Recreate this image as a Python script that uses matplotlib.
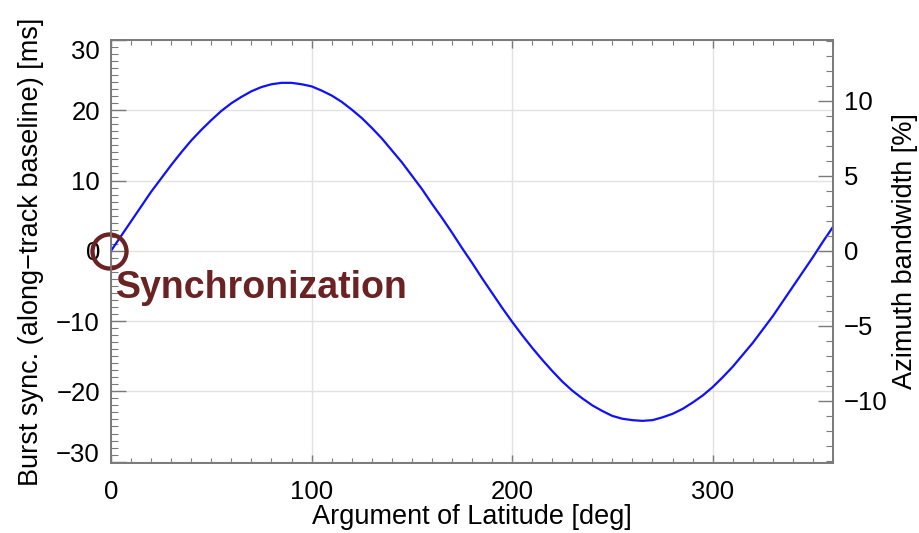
import matplotlib
matplotlib.use("Agg")
import matplotlib.pyplot as plt
from matplotlib.ticker import MultipleLocator

plt.rcParams["font.family"] = ["Liberation Sans", "DejaVu Sans"]

# burst synchronisation offset over one orbit
arg_lat = [0, 5, 10, 15, 20, 25, 30, 35, 40, 45, 50, 55, 60, 65, 70, 75, 80, 85, 90,
           95, 100, 105, 110, 115, 120, 125, 130, 135, 140, 145, 150, 155, 160, 165, 170, 175,
           180, 185, 190, 195, 200, 205, 210, 215, 220, 225, 230, 235, 240, 245, 250, 255,
           260, 265, 270, 275, 280, 285, 290, 295, 300, 305, 310, 315, 320, 325, 330, 335,
           340, 345, 350, 355, 360]
burst_sync = [0.0, 2.1, 4.2, 6.3, 8.4, 10.3, 12.2, 14.0, 15.7, 17.2, 18.6, 19.9, 21.0,
              21.9, 22.7, 23.3, 23.7, 23.9, 23.9, 23.7, 23.4, 22.8, 22.1, 21.2, 20.1,
              18.9, 17.5, 16.0, 14.3, 12.6, 10.7, 8.8, 6.7, 4.7, 2.6, 0.4,
              -1.7, -3.9, -6.0, -8.1, -10.1, -12.0, -13.8, -15.5, -17.1, -18.6, -19.9,
              -21.0, -22.0, -22.8, -23.5, -23.9, -24.1, -24.2, -24.1, -23.7, -23.2,
              -22.5, -21.6, -20.6, -19.4, -18.0, -16.5, -14.8, -13.1, -11.2, -9.3,
              -7.2, -5.1, -3.0, -0.9, 1.3, 3.4]

y_left = (-30.2, 30.0)
bw_per_ms = 0.4683          # azimuth bandwidth [%] per ms of burst offset
sync_point = (-1.2, 0.0)

spine_col = "#7a7a7a"
grid_col = "#e2e2e2"
red = "#6b2222"
fs = 18.5
fs_label = 19.5

fig = plt.figure(figsize=(9.2, 5.33), dpi=100)
ax = fig.add_axes([0.1207, 0.1313, 0.7847, 0.7937])
ax2 = ax.twinx()

ax.plot(arg_lat, burst_sync, color="#1010ff", lw=1.6, zorder=3)
ax.plot(*sync_point, marker="o", ms=24.5, mfc="none", mec=red, mew=3.1,
        clip_on=False, zorder=4)
ax.text(2.6, -6.7, "Synchronization", color=red, fontsize=27, fontweight="bold",
        ha="left", va="baseline", zorder=5)

ax.set_xlim(0, 360)
ax.set_ylim(*y_left)
ax2.set_ylim(y_left[0] * bw_per_ms, y_left[1] * bw_per_ms)

ax.xaxis.set_major_locator(MultipleLocator(100))
ax.xaxis.set_minor_locator(MultipleLocator(10))
ax.yaxis.set_major_locator(MultipleLocator(10))
ax.yaxis.set_minor_locator(MultipleLocator(1))
ax2.yaxis.set_major_locator(MultipleLocator(5))
ax2.yaxis.set_minor_locator(MultipleLocator(1))

ax.grid(True, which="major", color=grid_col, lw=1.0)
ax.set_axisbelow(True)

ax.tick_params(axis="x", which="major", direction="in", length=6, width=1,
               color=spine_col, top=True, labelsize=fs, pad=12)
ax.tick_params(axis="x", which="minor", direction="in", length=3.6, width=0.8,
               color=spine_col, top=True)
for a in (ax, ax2):
    a.tick_params(axis="y", which="major", direction="in", length=11, width=1,
                  color=spine_col, labelsize=fs, pad=8)
    a.tick_params(axis="y", which="minor", direction="in", length=5, width=0.8,
                  color=spine_col)
    for s in a.spines.values():
        s.set_color(spine_col)
        s.set_linewidth(1.2)

ax.set_xlabel("Argument of Latitude [deg]", fontsize=fs_label, labelpad=0)
ax.set_ylabel("Burst sync. (along\u2212track baseline) [ms]", fontsize=fs_label, labelpad=9)
ax2.set_ylabel("Azimuth bandwidth [%]", fontsize=fs_label, labelpad=3)

# keep the end labels inside the frame
fig.canvas.draw()
for lab in ax.get_yticklabels():
    if lab.get_text() == "30":
        lab.set_va("top")
    elif lab.get_text() in ("\u221230", "-30"):
        lab.set_va("baseline")

fig.savefig("out.png", dpi=100)
